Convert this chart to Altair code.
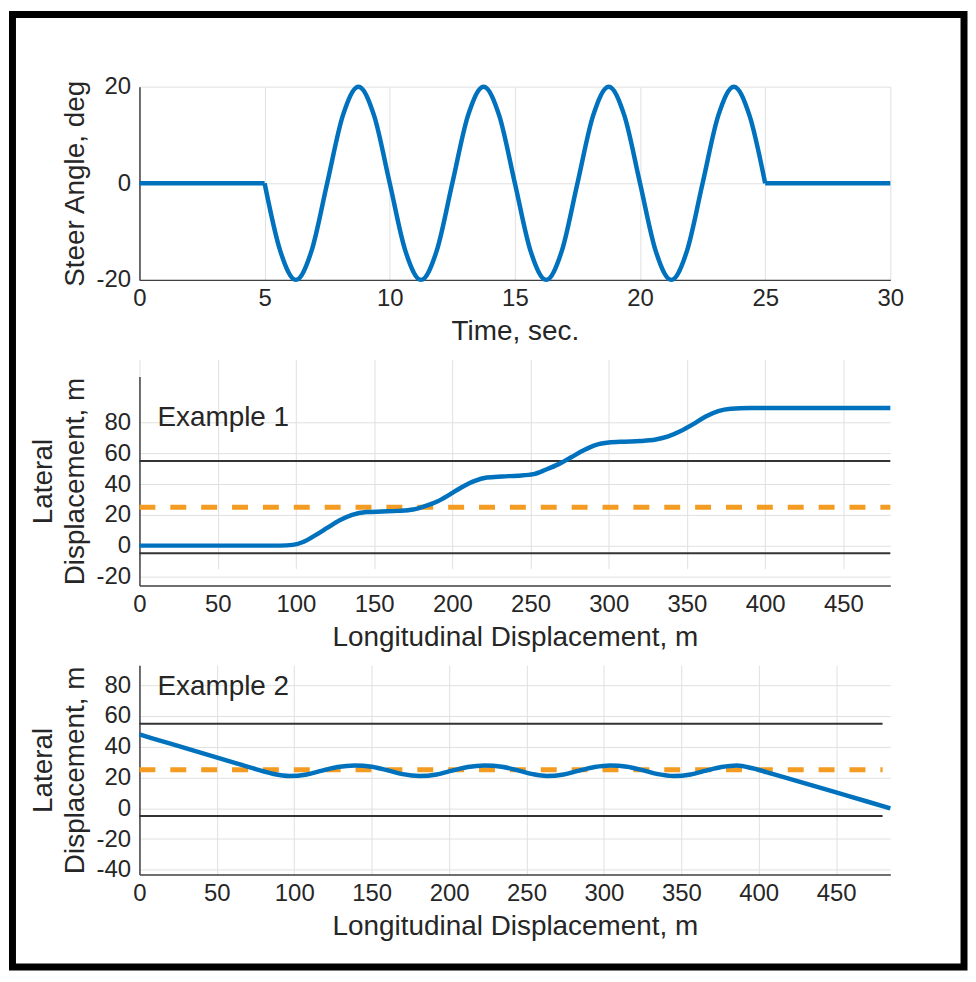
import altair as alt
import pandas as pd

FONT = "Liberation Sans"
BLUE = "#0072BD"
ORANGE = "#F39C21"
LANE = "#333333"
TEXT = "#262626"

# ---------------- Panel 1: steer angle vs time ----------------
hold1_t = [0, 5]
hold1_v = [0, 0]
wave_t = [5, 5.625, 6.25, 6.875, 7.5, 8.125, 8.75, 9.375,
          10, 10.625, 11.25, 11.875, 12.5, 13.125, 13.75, 14.375,
          15, 15.625, 16.25, 16.875, 17.5, 18.125, 18.75, 19.375,
          20, 20.625, 21.25, 21.875, 22.5, 23.125, 23.75, 24.375, 25]
wave_v = [0, -14, -20, -14, 0, 14, 20, 14,
          0, -14, -20, -14, 0, 14, 20, 14,
          0, -14, -20, -14, 0, 14, 20, 14,
          0, -14, -20, -14, 0, 14, 20, 14, 0]
hold2_t = [25, 30]
hold2_v = [0, 0]
time_ticks = [0, 5, 10, 15, 20, 25, 30]
steer_ticks = [-20, 0, 20]

# ---------------- Panel 2: Example 1 ----------------
ex1_x = [0, 90, 98, 105, 112, 120, 128, 136, 145, 155, 165, 175,
         182, 190, 198, 206, 214, 222, 232, 242, 252,
         260, 268, 276, 284, 292, 300, 310, 320, 330,
         338, 346, 354, 362, 370, 378, 390, 480]
ex1_y = [0, 0, 0.5, 2.5, 6.5, 11.5, 16.5, 20, 21.8, 22.2, 22.6, 23.5,
         25.5, 28.5, 33, 38, 42, 44.3, 45, 45.5, 46.5,
         49.5, 53, 57.5, 62, 65.5, 67, 67.6, 68, 69,
         71, 74.5, 79, 84, 87.5, 89, 89.5, 89.5]

# ---------------- Panel 3: Example 2 ----------------
ex2_x = [0, 20, 40, 60, 75, 86, 97, 108, 118, 128, 139, 150, 160, 170, 181,
         192, 202, 212, 223, 234, 244, 254, 263, 274, 284, 294, 304,
         315, 325, 335, 345, 356, 366, 376, 386, 396, 410, 430, 450, 470, 485]
ex2_y = [48, 42, 36, 30, 25.5, 22.5, 21, 22, 24.5, 26.8, 27.8, 27, 24.8, 22.2, 21,
         22, 24.5, 26.8, 27.8, 27, 24.8, 22.2, 21, 22, 24.5, 26.8, 27.8,
         27, 24.8, 22.2, 21, 22, 24.5, 26.8, 27.8, 26, 22, 16.2, 10.3, 4.4, 0]

lane_edge_y = [55, -5]
lane_center_y = [25]
lane_x_start = 0
lane_x_end = 480
disp_ticks = [0, 50, 100, 150, 200, 250, 300, 350, 400, 450]
lat1_ticks = [-20, 0, 20, 40, 60, 80]
lat2_ticks = [-40, -20, 0, 20, 40, 60, 80]

W = 754

# ---------- panel 1 ----------
steer_df = pd.DataFrame({
    "x": hold1_t + wave_t + hold2_t,
    "y": hold1_v + wave_v + hold2_v,
    "seg": ["a"] * len(hold1_t) + ["b"] * len(wave_t) + ["c"] * len(hold2_t),
})

x1 = alt.X("x:Q", scale=alt.Scale(domain=[0, 30], nice=False, zero=False),
           axis=alt.Axis(values=time_ticks, title="Time, sec.", labelFlush=False))
y1 = alt.Y("y:Q", scale=alt.Scale(domain=[-20, 20], nice=False, zero=False),
           axis=alt.Axis(values=steer_ticks, title="Steer Angle, deg"))

frame = alt.Chart(pd.DataFrame({"k": [0]})).mark_rect(
    fillOpacity=0, stroke="black", strokeWidth=7
).encode(x=alt.value(-127.5), x2=alt.value(828), y=alt.value(-72.5), y2=alt.value(884))

p1_line = alt.Chart(steer_df).mark_line(
    color=BLUE, strokeWidth=4.5, interpolate="monotone"
).encode(x=x1, y=y1, detail="seg:N")

p1 = alt.layer(frame, p1_line).properties(width=W, height=194)


def lane_panel(xs, ys, x_domain, y_domain, y_ticks, label, view_h, y_range, label_y):
    xe = alt.X("x:Q", scale=alt.Scale(domain=x_domain, nice=False, zero=False),
               axis=alt.Axis(values=disp_ticks, title="Longitudinal Displacement, m",
                             labelFlush=False))
    ye = alt.Y("y:Q", scale=alt.Scale(domain=y_domain, nice=False, zero=False, range=y_range),
               axis=alt.Axis(values=y_ticks, title=["Lateral", "Displacement, m"]))
    edges = pd.DataFrame({"x": [lane_x_start] * len(lane_edge_y),
                          "x2": [lane_x_end] * len(lane_edge_y),
                          "y": lane_edge_y})
    center = pd.DataFrame({"x": [lane_x_start] * len(lane_center_y),
                           "x2": [lane_x_end] * len(lane_center_y),
                           "y": lane_center_y})
    path = pd.DataFrame({"x": xs, "y": ys})
    r1 = alt.Chart(edges).mark_rule(color=LANE, strokeWidth=2).encode(x=xe, x2="x2:Q", y=ye)
    r2 = alt.Chart(center).mark_rule(color=ORANGE, strokeWidth=5, strokeDash=[16, 15]).encode(
        x=xe, x2="x2:Q", y=ye)
    ln = alt.Chart(path).mark_line(color=BLUE, strokeWidth=4.5, interpolate="monotone").encode(
        x=xe, y=ye, order="x:Q")
    tx = alt.Chart(pd.DataFrame({"label": [label]})).mark_text(
        align="left", baseline="alphabetic", fontSize=28, font=FONT, color=TEXT
    ).encode(text="label:N", x=alt.value(18), y=alt.value(label_y))
    return alt.layer(r1, r2, ln, tx).properties(width=W, height=view_h)


p2 = lane_panel(ex1_x, ex1_y, [0, 480], [-26, 110], lat1_ticks, "Example 1", 227, [227, 17], 67)
p3 = lane_panel(ex2_x, ex2_y, [0, 485], [-43, 93], lat2_ticks, "Example 2", 210, [210, 0], 30)

chart = alt.vconcat(p1, p2, p3, spacing=80, bounds="flush").properties(
    padding=0, background="white"
).configure(font=FONT).configure_view(stroke="transparent").configure_axis(
    labelFont=FONT, labelFontSize=24, labelColor=TEXT,
    titleFont=FONT, titleFontSize=28, titleColor=TEXT, titleFontWeight="normal",
    domainColor="#404040", domainWidth=1.5,
    gridColor="#e0e0e0", gridWidth=1,
    ticks=False, tickSize=0, labelOverlap=False,
    labelExpr="'' + datum.value",
).configure_axisX(labelPadding=7, titlePadding=7).configure_axisY(
    labelPadding=9, titlePadding=6, titleLineHeight=33
)

chart.save("out.html", embed_options={"renderer": "svg", "actions": False})
